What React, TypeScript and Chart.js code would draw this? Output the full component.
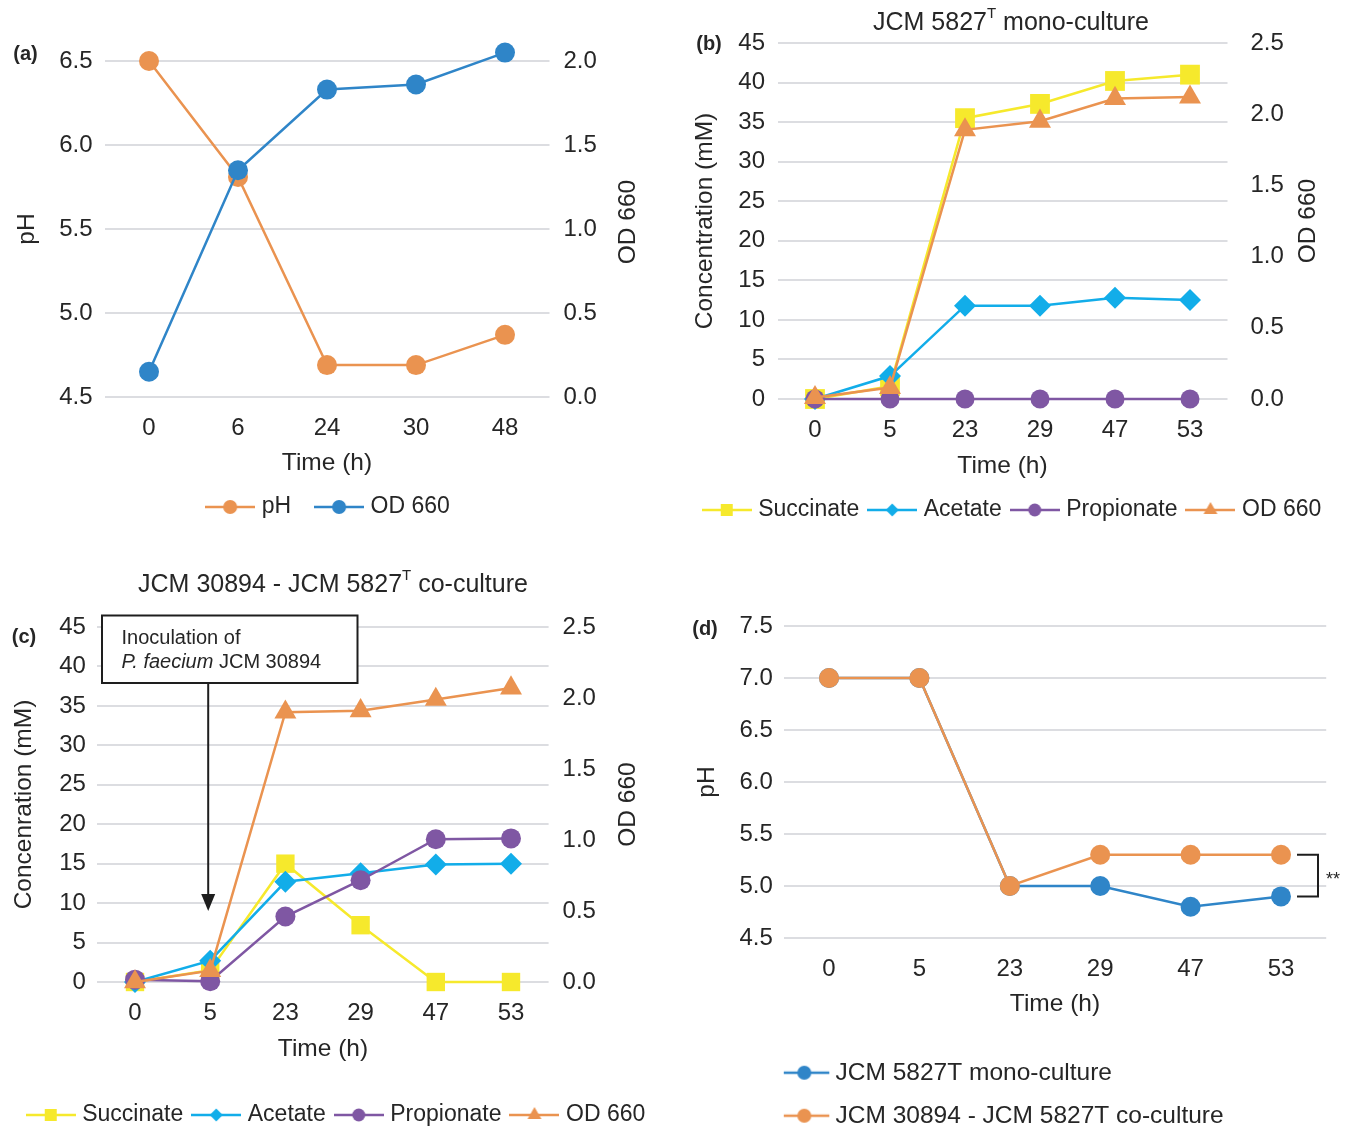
import React, { useEffect, useRef } from 'react';
import { Chart, registerables } from 'chart.js';

Chart.register(...registerables);

const FONT = "'Liberation Sans', Arial, Helvetica, sans-serif";
Chart.defaults.font.family = FONT;

const TEXT = '#262626';
const GRID = '#DCDDE1';
const ORANGE = '#EA9350';
const BLUE = '#2F85C8';
const YELLOW = '#F6E92C';
const CYAN = '#12ADE9';
const PURPLE = '#7F57A3';
const INK = '#1E1E1E';

// ---------------- data ----------------
// (a)
const timeA = ['0', '6', '24', '30', '48'];
const phA = [6.5, 5.81, 4.69, 4.69, 4.87];
const odA = [0.15, 1.35, 1.83, 1.86, 2.05];

// (b) JCM 5827T mono-culture
const timeB = ['0', '5', '23', '29', '47', '53'];
const succinateB = [0, 1.6, 35.5, 37.3, 40.2, 41.0];
const acetateB = [0, 2.9, 11.8, 11.8, 12.8, 12.5];
const propionateB = [0, 0, 0, 0, 0, 0];
const odB = [0.01, 0.08, 1.89, 1.95, 2.11, 2.12];

// (c) co-culture
const timeC = ['0', '5', '23', '29', '47', '53'];
const succinateC = [0, 1.5, 15.0, 7.2, 0, 0];
const acetateC = [0, 2.7, 12.7, 13.8, 14.9, 15.0];
const propionateC = [0.3, 0.1, 8.3, 12.9, 18.1, 18.2];
const odC = [0, 0.08, 1.9, 1.91, 1.99, 2.07];

// (d) pH
const timeD = ['0', '5', '23', '29', '47', '53'];
const phMonoD = [7.0, 7.0, 5.0, 5.0, 4.8, 4.9];
const phCoD = [7.0, 7.0, 5.0, 5.3, 5.3, 5.3];

// axis ranges: [min, max, step]
const phRangeA = [4.5, 6.5, 0.5];
const odRangeA = [0, 2.0, 0.5];
const concRange = [0, 45, 5];
const odRangeBC = [0, 2.5, 0.5];
const phRangeD = [4.5, 7.5, 0.5];

const inoculationIndex = 1; // t = 5 h
const inoculationArrowTip = 9; // mM

// ---------------- helpers ----------------
type Mk = 'circle' | 'rect' | 'rectRot' | 'triangle';

function icon(color: string, mk: Mk, r: number, width: number, start?: number, len = 50) {
  const c = document.createElement('canvas');
  c.width = width;
  c.height = 26;
  const g = c.getContext('2d')!;
  const s = start === undefined ? (width - len) / 2 : start;
  const cy = 13;
  const cx = s + len / 2;
  g.strokeStyle = color;
  g.lineWidth = 2.5;
  g.beginPath();
  g.moveTo(s, cy);
  g.lineTo(s + len, cy);
  g.stroke();
  g.fillStyle = color;
  g.beginPath();
  if (mk === 'circle') g.arc(cx, cy, r, 0, Math.PI * 2);
  else if (mk === 'rect') g.rect(cx - r, cy - r, 2 * r, 2 * r);
  else if (mk === 'rectRot') {
    g.moveTo(cx, cy - r);
    g.lineTo(cx + r, cy);
    g.lineTo(cx, cy + r);
    g.lineTo(cx - r, cy);
    g.closePath();
  } else {
    g.moveTo(cx, cy - r);
    g.lineTo(cx + r * 0.866, cy + r * 0.5);
    g.lineTo(cx - r * 0.866, cy + r * 0.5);
    g.closePath();
  }
  g.fill();
  return c;
}

function series(label: string, data: number[], color: string, mk: Mk, radius: number, yAxisID: string, order: number) {
  return {
    label,
    data,
    yAxisID,
    order,
    borderColor: color,
    backgroundColor: color,
    borderWidth: 2.5,
    pointStyle: mk,
    pointRadius: radius,
    pointHoverRadius: radius,
    pointBorderWidth: 0,
    pointBackgroundColor: color,
    pointBorderColor: color,
    tension: 0,
    fill: false,
    clip: false,
  };
}

function yAxis(position: string, range: number[], width: number, pad: number, title: string | null, titlePad: number, grid: boolean, decimals: number) {
  return {
    type: 'linear',
    position,
    min: range[0],
    max: range[1],
    afterFit: (s: any) => {
      s.width = width;
    },
    grid: { display: grid, color: GRID, lineWidth: 2, drawTicks: false },
    border: { display: false },
    ticks: {
      stepSize: range[2],
      padding: pad,
      color: TEXT,
      font: { family: FONT, size: 24 },
      callback: (v: any) => Number(v).toFixed(decimals),
    },
    title: title
      ? { display: true, text: title, color: TEXT, font: { family: FONT, size: 24.5, lineHeight: 1 }, padding: { top: titlePad, bottom: 0 } }
      : { display: false },
  };
}

function xAxis(height: number, pad: number, titlePadBottom: number) {
  return {
    type: 'category',
    offset: true,
    afterFit: (s: any) => {
      s.height = height;
    },
    grid: { display: false, drawTicks: false },
    border: { display: false },
    ticks: { padding: pad, color: TEXT, font: { family: FONT, size: 24 }, maxRotation: 0, autoSkip: false },
    title: {
      display: true,
      text: 'Time (h)',
      color: TEXT,
      font: { family: FONT, size: 24.5, lineHeight: 1 },
      padding: { top: 0, bottom: titlePadBottom },
    },
  };
}

function legend(fontSize: number, padding: number, boxW: number, icons: HTMLCanvasElement[], extra: any = {}) {
  return {
    display: true,
    position: 'bottom',
    ...extra,
    labels: {
      usePointStyle: true,
      pointStyleWidth: boxW,
      padding,
      color: TEXT,
      font: { family: FONT, size: fontSize },
      generateLabels: (chart: any) =>
        chart.data.datasets.map((d: any, i: number) => ({
          text: d.label,
          fillStyle: d.borderColor,
          strokeStyle: d.borderColor,
          lineWidth: 0,
          pointStyle: icons[i],
          hidden: false,
          datasetIndex: i,
          fontColor: TEXT,
        })),
    },
  };
}

function base(padding: any, scales: any, leg: any) {
  return {
    responsive: false,
    animation: false,
    devicePixelRatio: 1,
    events: [],
    layout: { padding },
    scales,
    plugins: { legend: leg, title: { display: false }, tooltip: { enabled: false } },
  };
}

const panelLabel = (text: string, x: number, y: number) => ({
  id: 'panelLabel',
  afterDraw(chart: any) {
    const c = chart.ctx;
    c.save();
    c.font = `bold 20px ${FONT}`;
    c.fillStyle = TEXT;
    c.textAlign = 'center';
    c.textBaseline = 'middle';
    c.fillText(text, x, y);
    c.restore();
  },
});

const rightTitle = (text: string, offset: number, dy: number) => ({
  id: 'rightTitle',
  afterDraw(chart: any) {
    const { ctx, chartArea } = chart;
    ctx.save();
    ctx.translate(chartArea.right + offset, (chartArea.top + chartArea.bottom) / 2 + dy);
    ctx.rotate(-Math.PI / 2);
    ctx.font = `24.5px ${FONT}`;
    ctx.fillStyle = TEXT;
    ctx.textAlign = 'center';
    ctx.textBaseline = 'middle';
    ctx.fillText(text, 0, 0);
    ctx.restore();
  },
});

const supTitle = (parts: [string, boolean][], cx: number, cy: number) => ({
  id: 'supTitle',
  afterDraw(chart: any) {
    const ctx = chart.ctx;
    const main = `25px ${FONT}`;
    const sup = `15px ${FONT}`;
    ctx.save();
    let total = 0;
    for (const [t, s] of parts) {
      ctx.font = s ? sup : main;
      total += ctx.measureText(t).width;
    }
    let x = cx - total / 2;
    ctx.textAlign = 'left';
    ctx.textBaseline = 'middle';
    ctx.fillStyle = TEXT;
    for (const [t, s] of parts) {
      ctx.font = s ? sup : main;
      ctx.fillText(t, x, s ? cy - 9 : cy);
      x += ctx.measureText(t).width;
    }
    ctx.restore();
  },
});

const inoculationNote = {
  id: 'inoculationNote',
  afterDraw(chart: any) {
    const { ctx, chartArea, scales } = chart;
    const bx = chartArea.left + 4.6;
    const by = chartArea.top - 11.5;
    const bw = 255.5;
    const bh = 67.5;
    const ax = scales.x.getPixelForValue(inoculationIndex) - 2;
    const tip = scales.y.getPixelForValue(inoculationArrowTip);
    ctx.save();
    ctx.strokeStyle = INK;
    ctx.fillStyle = INK;
    ctx.lineWidth = 2;
    ctx.beginPath();
    ctx.moveTo(ax, by + bh);
    ctx.lineTo(ax, tip - 14);
    ctx.stroke();
    ctx.beginPath();
    ctx.moveTo(ax, tip);
    ctx.lineTo(ax - 7, tip - 17);
    ctx.lineTo(ax + 7, tip - 17);
    ctx.closePath();
    ctx.fill();
    ctx.fillStyle = '#FFFFFF';
    ctx.fillRect(bx, by, bw, bh);
    ctx.strokeRect(bx, by, bw, bh);
    ctx.fillStyle = TEXT;
    ctx.textAlign = 'left';
    ctx.textBaseline = 'middle';
    ctx.font = `20px ${FONT}`;
    ctx.fillText('Inoculation of', bx + 19.5, by + 22.5);
    ctx.font = `italic 20px ${FONT}`;
    ctx.fillText('P. faecium', bx + 19.5, by + 47);
    const w = ctx.measureText('P. faecium').width;
    ctx.font = `20px ${FONT}`;
    ctx.fillText(' JCM 30894', bx + 19.5 + w, by + 47);
    ctx.restore();
  },
};

const significance = {
  id: 'significance',
  afterDraw(chart: any) {
    const { ctx, scales } = chart;
    const last = timeD.length - 1;
    const x0 = scales.x.getPixelForValue(last) + 16;
    const x1 = x0 + 21;
    const yTop = scales.y.getPixelForValue(phCoD[last]);
    const yBot = scales.y.getPixelForValue(phMonoD[last]);
    ctx.save();
    ctx.strokeStyle = INK;
    ctx.lineWidth = 2;
    ctx.beginPath();
    ctx.moveTo(x0, yTop);
    ctx.lineTo(x1, yTop);
    ctx.lineTo(x1, yBot);
    ctx.lineTo(x0, yBot);
    ctx.stroke();
    ctx.fillStyle = TEXT;
    ctx.font = `18px ${FONT}`;
    ctx.textAlign = 'left';
    ctx.textBaseline = 'alphabetic';
    ctx.fillText('**', x1 + 8, (yTop + yBot) / 2 + 9);
    ctx.restore();
  },
};

// ---------------- chart configs ----------------
function configA() {
  const icons = [icon(ORANGE, 'circle', 7, 50), icon(BLUE, 'circle', 7, 50)];
  return {
    type: 'line',
    data: {
      labels: timeA,
      datasets: [series('pH', phA, ORANGE, 'circle', 10, 'y', 2), series('OD 660', odA, BLUE, 'circle', 10, 'y1', 1)],
    },
    options: base(
      { top: 61, bottom: 11.5, left: 0, right: 16 },
      {
        x: xAxis(70.5, 16.6, -8.25),
        y: yAxis('left', phRangeA, 104.5, 12, 'pH', 14.75, true, 1),
        y1: yAxis('right', odRangeA, 110.5, 14, null, 0, false, 1),
      },
      legend(23, 28, 40, icons)
    ),
    plugins: [panelLabel('(a)', 25.5, 54), rightTitle('OD 660', 78.5, -7)],
  };
}

function configB() {
  const icons = [
    icon(YELLOW, 'rect', 6, 50),
    icon(CYAN, 'rectRot', 6.5, 50),
    icon(PURPLE, 'circle', 6.5, 50),
    icon(ORANGE, 'triangle', 8, 50),
  ];
  return {
    type: 'line',
    data: {
      labels: timeB,
      datasets: [
        series('Succinate', succinateB, YELLOW, 'rect', 14, 'y', 4),
        series('Acetate', acetateB, CYAN, 'rectRot', 11, 'y', 3),
        series('Propionate', propionateB, PURPLE, 'circle', 9.5, 'y', 2),
        series('OD 660', odB, ORANGE, 'triangle', 12.7, 'y1', 1),
      ],
    },
    options: base(
      { top: 43, bottom: 8.5, left: 0, right: 0 },
      {
        x: xAxis(86.5, 16.6, 7.25),
        y: yAxis('left', concRange, 101.5, 12.5, 'Concentration (mM)', 16.75, true, 0),
        y1: yAxis('right', odRangeBC, 124.5, 23, null, 0, false, 1),
      },
      legend(23, 13, 40, icons)
    ),
    plugins: [
      panelLabel('(b)', 33, 44),
      rightTitle('OD 660', 80.5, 0),
      supTitle([['JCM 5827', false], ['T', true], [' mono-culture', false]], 335, 23),
    ],
  };
}

function configC() {
  const icons = [
    icon(YELLOW, 'rect', 6, 50),
    icon(CYAN, 'rectRot', 6.5, 50),
    icon(PURPLE, 'circle', 6.5, 50),
    icon(ORANGE, 'triangle', 8, 50),
  ];
  return {
    type: 'line',
    data: {
      labels: timeC,
      datasets: [
        series('Succinate', succinateC, YELLOW, 'rect', 13, 'y', 4),
        series('Acetate', acetateC, CYAN, 'rectRot', 11, 'y', 3),
        series('Propionate', propionateC, PURPLE, 'circle', 10, 'y', 2),
        series('OD 660', odC, ORANGE, 'triangle', 12.7, 'y1', 1),
      ],
    },
    options: base(
      { top: 87, bottom: 23.5, left: 0, right: 0 },
      {
        x: xAxis(108.5, 16.6, 29.25),
        y: yAxis('left', concRange, 97.4, 11.5, 'Concenration (mM)', 11.75, true, 0),
        y1: yAxis('right', odRangeBC, 127.4, 14, null, 0, false, 1),
      },
      legend(23, 13, 40, icons)
    ),
    plugins: [
      panelLabel('(c)', 24, 97),
      rightTitle('OD 660', 79.4, 0),
      supTitle([['JCM 30894 - JCM 5827', false], ['T', true], [' co-culture', false]], 333, 45),
      inoculationNote,
    ],
  };
}

function configD() {
  const icons = [icon(BLUE, 'circle', 7, 67, 0), icon(ORANGE, 'circle', 7, 67, 0)];
  return {
    type: 'line',
    data: {
      labels: timeD,
      datasets: [
        series('JCM 5827T mono-culture', phMonoD, BLUE, 'circle', 10, 'y', 2),
        series('JCM 30894 - JCM 5827T co-culture', phCoD, ORANGE, 'circle', 10, 'y', 1),
      ],
    },
    options: base(
      { top: 86, bottom: 22, left: 0, right: 25.8 },
      {
        x: xAxis(104, 16.6, 25.75),
        y: yAxis('left', phRangeD, 107.8, 11, 'pH', 18.75, true, 1),
      },
      legend(24.5, 18.5, 21, icons, { align: 'start', fullSize: false })
    ),
    plugins: [panelLabel('(d)', 29, 89), significance],
  };
}

function Panel({ left, top, width, height, make }: { left: number; top: number; width: number; height: number; make: () => any }) {
  const ref = useRef<HTMLCanvasElement>(null);
  useEffect(() => {
    const chart = new Chart(ref.current as HTMLCanvasElement, make());
    return () => chart.destroy();
  }, []);
  return (
    <canvas
      ref={ref}
      width={width}
      height={height}
      style={{ position: 'absolute', left, top, width, height, display: 'block' }}
    />
  );
}

export default function App() {
  return (
    <div
      style={{
        position: 'absolute',
        left: 0,
        top: 0,
        width: 1352,
        height: 1128,
        overflow: 'hidden',
        background: '#FFFFFF',
      }}
    >
      <Panel left={0} top={0} width={676} height={540} make={configA} />
      <Panel left={676} top={0} width={676} height={540} make={configB} />
      <Panel left={0} top={540} width={676} height={620} make={configC} />
      <Panel left={676} top={540} width={676} height={620} make={configD} />
    </div>
  );
}
